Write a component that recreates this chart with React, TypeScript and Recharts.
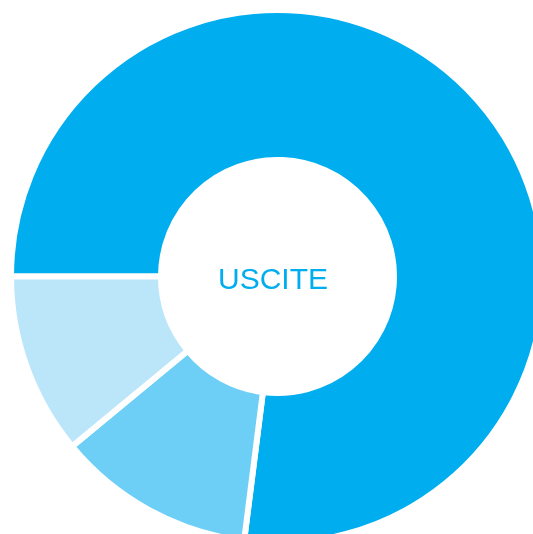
import { PieChart, Pie, Cell, Label } from "recharts";

const categories = ["A", "B", "C"];
const values = [77, 12, 11];
const colors = ["#00AEEF", "#6DCFF6", "#BBE6FA"];
const centerLabel = "USCITE";

const data = categories.map((name, i) => ({ name, value: values[i] }));

// chart fills the whole window, pie runs off the right and bottom edges
const CX = 277.5;
const CY = 276.5;

function CenterText() {
  return (
    <text
      x={CX - 4.5}
      y={CY + 1.5}
      textAnchor="middle"
      dominantBaseline="central"
      fill="#00AEEF"
      fontSize={30}
      fontFamily="Liberation Sans, Arial, sans-serif"
    >
      {centerLabel}
    </text>
  );
}

export default function App() {
  return (
    <div style={{ position: "fixed", left: 0, top: 0, width: 533, height: 534, overflow: "hidden" }}>
      <PieChart width={533} height={534} margin={{ top: 0, right: 0, bottom: 0, left: 0 }}>
        <Pie
          data={data}
          dataKey="value"
          nameKey="name"
          cx={CX}
          cy={CY}
          innerRadius={116.5}
          outerRadius={266.5}
          startAngle={180}
          endAngle={-180}
          stroke="#fff"
          strokeWidth={6}
          isAnimationActive={false}
        >
          {data.map((_, index) => (
            <Cell key={index} fill={colors[index]} />
          ))}
          <Label position="center" content={<CenterText />} />
        </Pie>
      </PieChart>
    </div>
  );
}
